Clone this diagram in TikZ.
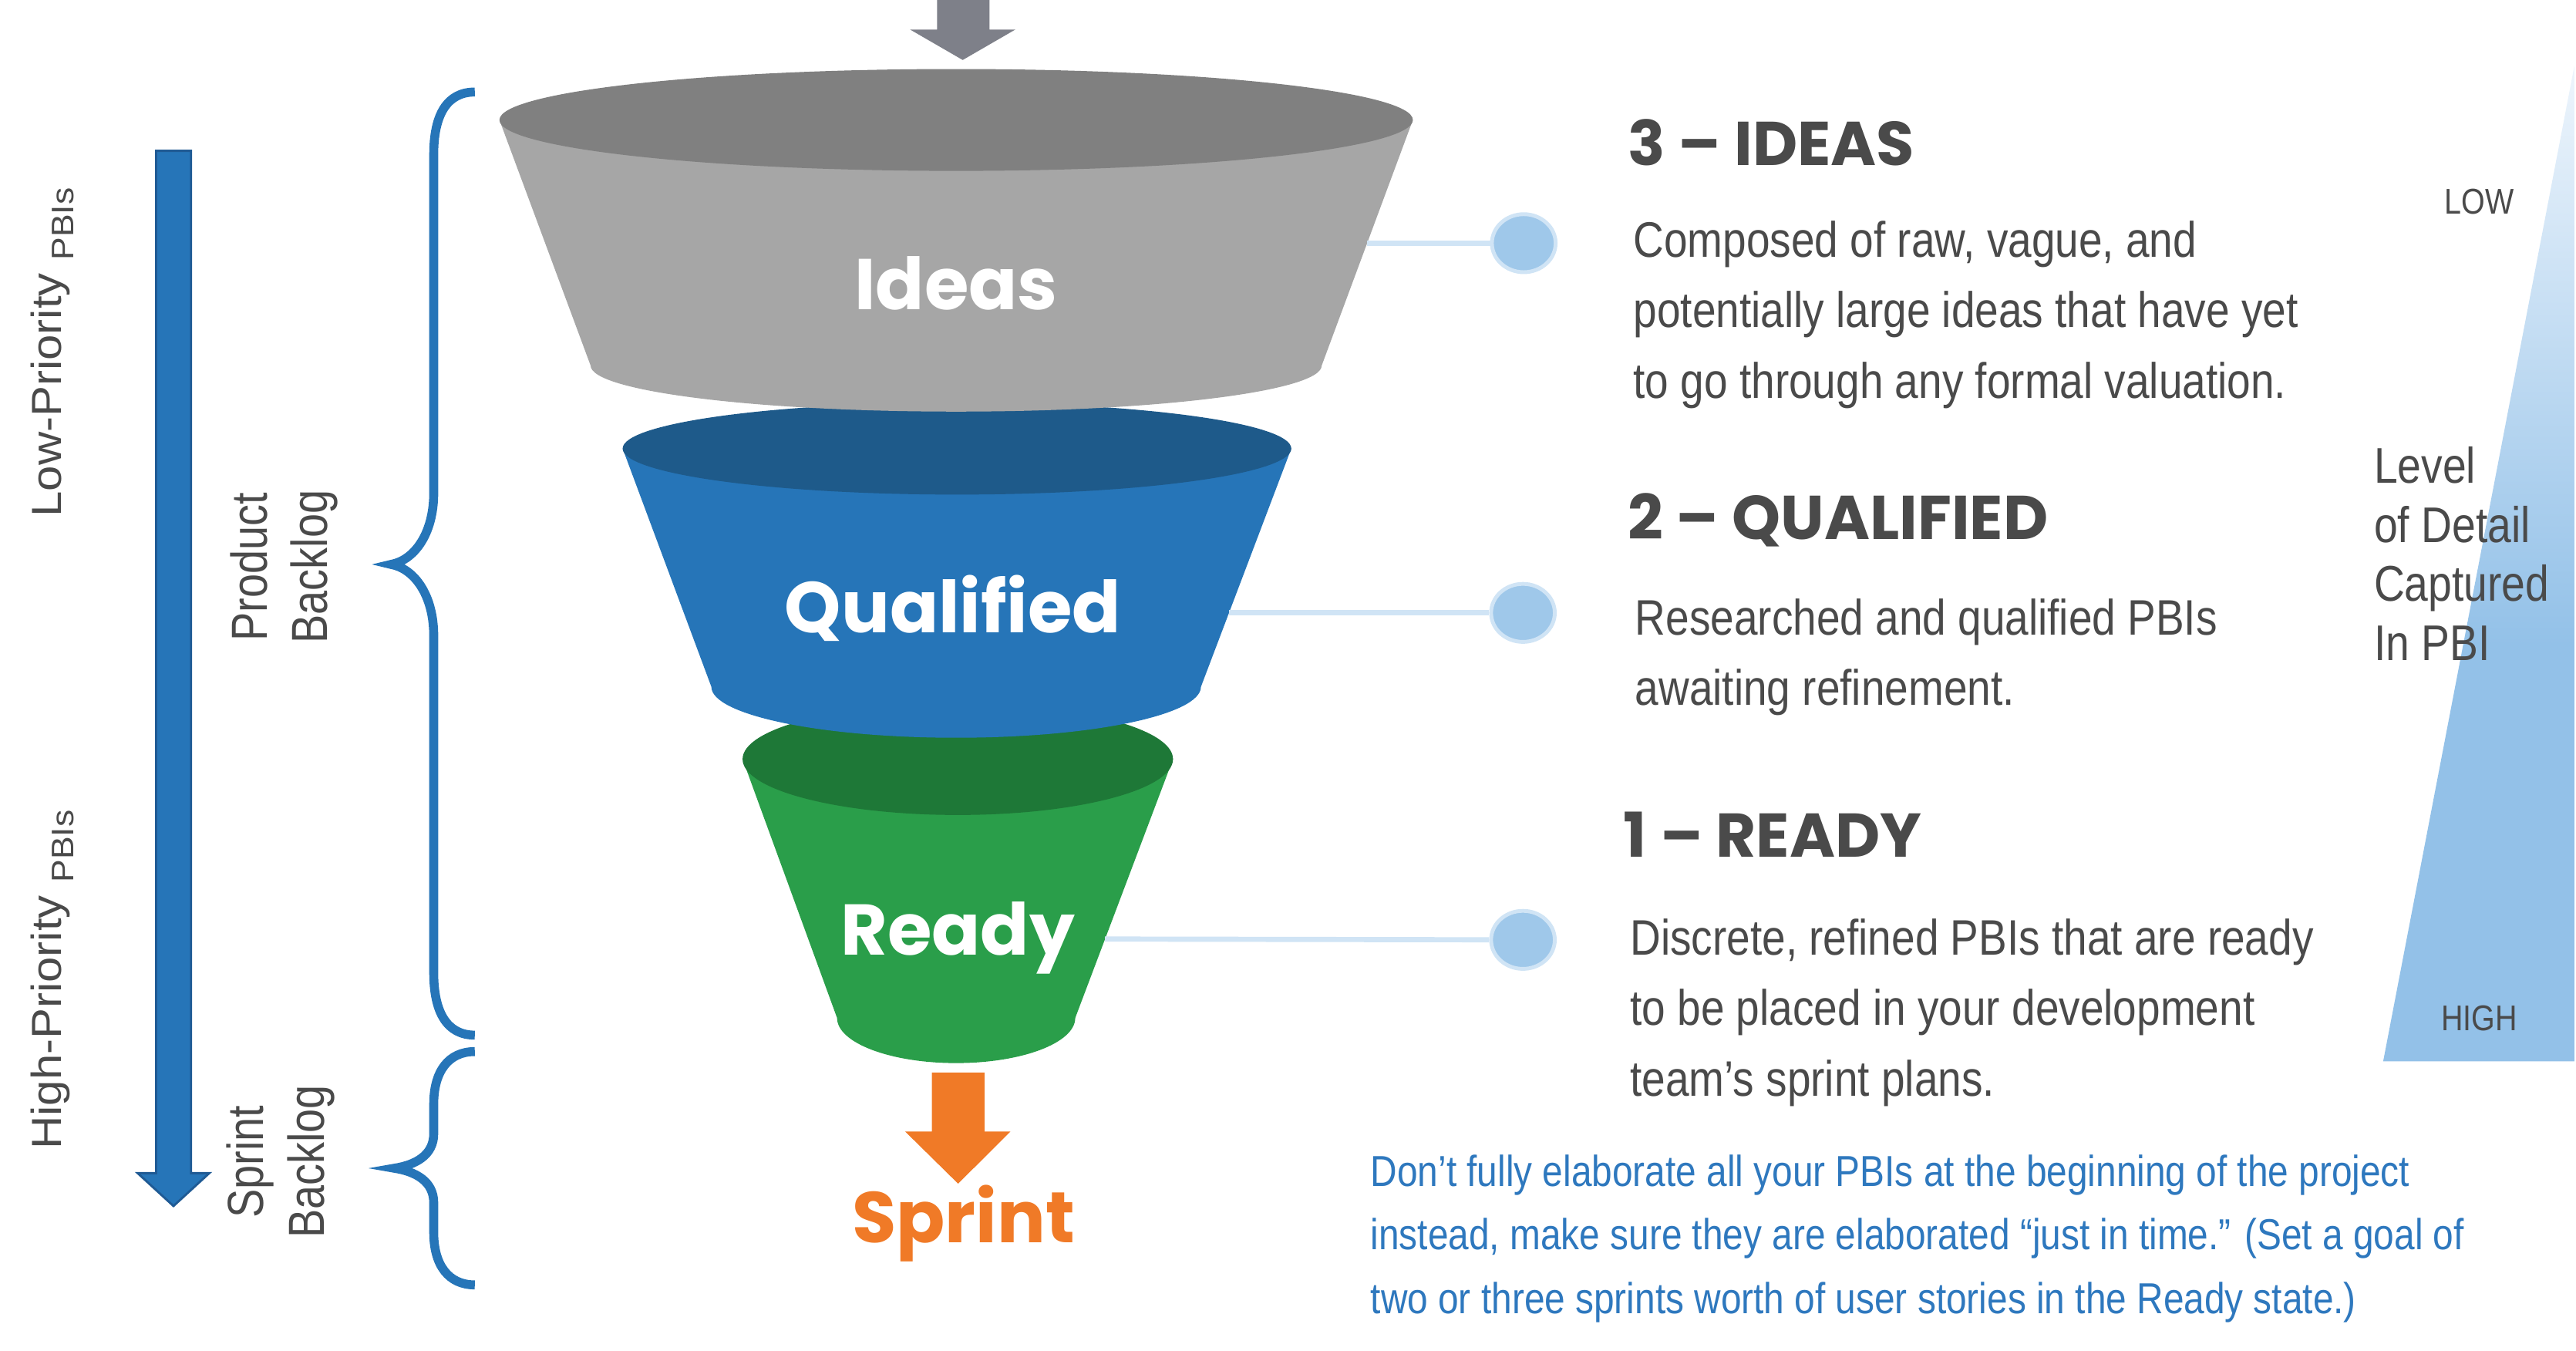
\documentclass[tikz,border=0pt]{standalone}
\usepackage{fontspec}
\usepackage{xcolor}
\usepackage{tikz}
\usetikzlibrary{shapes.geometric}
\newfontfamily\headfont{Poppins}
\newfontfamily\bodyfont{Liberation Sans}[FakeStretch=0.85]
\newfontfamily\priofont{Liberation Sans}[FakeStretch=1.1]

\definecolor{inkgray}{HTML}{4A4A4A}
\definecolor{ideastop}{HTML}{808080}
\definecolor{ideasbody}{HTML}{A6A6A6}
\definecolor{qualtop}{HTML}{1E5A8A}
\definecolor{qualbody}{HTML}{2675B8}
\definecolor{readytop}{HTML}{1E7837}
\definecolor{readybody}{HTML}{2A9E4A}
\definecolor{sprintorange}{HTML}{F07A27}
\definecolor{feedgray}{HTML}{7E8089}
\definecolor{linkblue}{HTML}{D0E4F5}
\definecolor{dotblue}{HTML}{9FC8EA}
\definecolor{noteblue}{HTML}{2E78BE}
\definecolor{detailtop}{HTML}{EEF5FC}
\definecolor{detailbot}{HTML}{93C1E8}
\definecolor{arrowedge}{HTML}{1F5A94}

\tikzset{
  stagelbl/.style={font=\headfont\bfseries\fontsize{26.5}{30}\selectfont,text=white,
                   inner sep=0pt,anchor=base},
  headlbl/.style={font=\headfont\bfseries\fontsize{22.8}{26}\selectfont,text=inkgray,
                  inner sep=0pt,anchor=base west},
  bodytxt/.style={font=\bodyfont\fontsize{18.4}{26.1}\selectfont,text=inkgray,
                  inner sep=0pt,anchor=base west,align=left},
  tipnote/.style={font=\bodyfont\fontsize{16}{23.5}\selectfont,text=noteblue,
                  inner sep=0pt,anchor=base west,align=left},
  priolbl/.style={font=\priofont\fontsize{15.5}{18}\selectfont,text=inkgray,
                  inner sep=0pt,anchor=base west,rotate=90},
  backlbl/.style={font=\bodyfont\fontsize{18.7}{22.4}\selectfont,text=inkgray,
                  inner sep=0pt,align=center,rotate=90},
  scalelbl/.style={font=\bodyfont\fontsize{13.2}{16}\selectfont,text=inkgray,
                   inner sep=0pt,anchor=base},
  detaillbl/.style={font=\bodyfont\fontsize{18.5}{21.8}\selectfont,text=inkgray,
                    inner sep=0pt,anchor=base west,align=left},
  rimdot/.style={ellipse,fill=dotblue,draw=linkblue,line width=1.4pt,inner sep=0pt,
                 minimum width=23.5pt,minimum height=21.4pt},
  rimlink/.style={draw=linkblue,line width=1.9pt},
  curly/.style={draw=qualbody,line width=3.3pt}
}

\begin{document}
\begin{tikzpicture}[x=0.021307cm,y=-0.021307cm]
  \useasboundingbox (0,0) rectangle (1568,822);

  % level-of-detail wedge
  \begin{scope}
    \clip (1567,40) -- (1450.6,646) -- (1567,646) -- cycle;
    \fill[detailbot] (1440,390) rectangle (1568,650);
    \shade[top color=detailtop,bottom color=detailbot] (1440,38) rectangle (1568,392);
  \end{scope}

  % incoming arrow
  \fill[feedgray] (570.4,-2) -- (570.4,18) -- (554,18) -- (586,36.5) -- (618,18)
    -- (602.3,18) -- (602.3,-2) -- cycle;

  % funnel, bottom up so every rim hides the top of the next
  \fill[readybody] (452,462) -- (509.5,619.5)
    arc[start angle=180,end angle=0,x radius=72.5,y radius=27.5] -- (714,462) -- cycle;
  \fill[readytop] (583,462) ellipse[x radius=131,y radius=34];
  \fill[qualbody] (379,273) -- (433,418)
    arc[start angle=180,end angle=0,x radius=149,y radius=31] -- (786,273) -- cycle;
  \fill[qualtop] (582.5,273) ellipse[x radius=203.5,y radius=28];
  \fill[ideasbody] (304,73) -- (359.5,222.5)
    arc[start angle=180,end angle=0,x radius=222.5,y radius=28] -- (860,73) -- cycle;
  \fill[ideastop] (582,73) ellipse[x radius=278,y radius=31];

  \node[stagelbl] (ideas) at (582,188.6) {Ideas};
  \node[stagelbl] (qualified) at (580,385.1) {Qualified};
  \node[stagelbl] (ready) at (583,581.2) {Ready};

  % out to the sprint
  \fill[sprintorange] (567.2,652.7) -- (567.2,688.7) -- (551,688.7) -- (583.2,720.4)
    -- (615,688.7) -- (599.3,688.7) -- (599.3,652.7) -- cycle;
  \node[stagelbl,text=sprintorange] (sprint) at (586.5,756.4) {Sprint};

  % priority arrow and braces
  \filldraw[fill=qualbody,draw=arrowedge,line width=0.8pt] (95,91.8) -- (95,714)
    -- (83.8,714) -- (105.6,734) -- (127.4,714) -- (116.3,714) -- (116.3,91.8) -- cycle;
  \node[priolbl] (lowprio) at (37.5,315)
    {Low-Priority \raisebox{-4.4pt}{\fontsize{11.5}{13}\selectfont PBIs}};
  \node[priolbl] (highprio) at (37.5,700)
    {High-Priority \raisebox{-4.4pt}{\fontsize{11.5}{13}\selectfont PBIs}};
  \node[backlbl] (product) at (173,345) {Product\\Backlog};
  \node[backlbl] (sprintlog) at (171,707) {Sprint\\Backlog};
  \draw[curly] (289,56) .. controls (272,56) and (264,70) .. (264,94) -- (264,300)
    .. controls (264,325) and (252,341) .. (238,343.5)
    .. controls (252,346) and (264,362) .. (264,387) -- (264,592)
    .. controls (264,616) and (272,630) .. (289,630);
  \draw[curly] (289,640) .. controls (273,640) and (264,652) .. (264,672) -- (264,690)
    .. controls (264,703) and (253,709) .. (240,711)
    .. controls (253,713) and (264,719) .. (264,732) -- (264,750)
    .. controls (264,770) and (273,782) .. (289,782);

  % rim markers
  \coordinate (ideasrim) at (832.2,148);
  \coordinate (qualrim) at (748,373);
  \coordinate (readyrim) at (672.6,571.5);
  \node[rimdot] (dot3) at (927.5,148) {};
  \node[rimdot] (dot2) at (927,373) {};
  \node[rimdot] (dot1) at (927,572) {};
  \draw[rimlink] (ideasrim) -- (dot3);
  \draw[rimlink] (qualrim) -- (dot2);
  \draw[rimlink] (readyrim) -- (dot1);

  % stage descriptions (multi-line nodes sit on their last baseline)
  \node[headlbl] (head3) at (990.5,100.5) {3 – IDEAS};
  \node[bodytxt] (text3) at (994,242.5) {Composed of raw, vague, and\\potentially large ideas that have yet\\to go through any formal valuation.};
  \node[headlbl] (head2) at (990.5,328.5) {2 – QUALIFIED};
  \node[bodytxt] (text2) at (995,429.4) {Researched and qualified PBIs\\awaiting refinement.};
  \node[headlbl] (head1) at (988,521.7) {1 – READY};
  \node[bodytxt] (text1) at (992,667.2) {Discrete, refined PBIs that are ready\\to be placed in your development\\team’s sprint plans.};
  \node[tipnote] (tip) at (834,799.4) {Don’t fully elaborate all your PBIs at the beginning of the project\\instead, make sure they are elaborated “just in time.” (Set a goal of\\two or three sprints worth of user stories in the Ready state.)};

  % detail scale
  \node[scalelbl] (low) at (1509,130) {LOW};
  \node[scalelbl] (high) at (1509,627) {HIGH};
  \node[detaillbl] (detail) at (1444.7,402) {Level\\of Detail\\Captured\\In PBI};
\end{tikzpicture}
\end{document}
